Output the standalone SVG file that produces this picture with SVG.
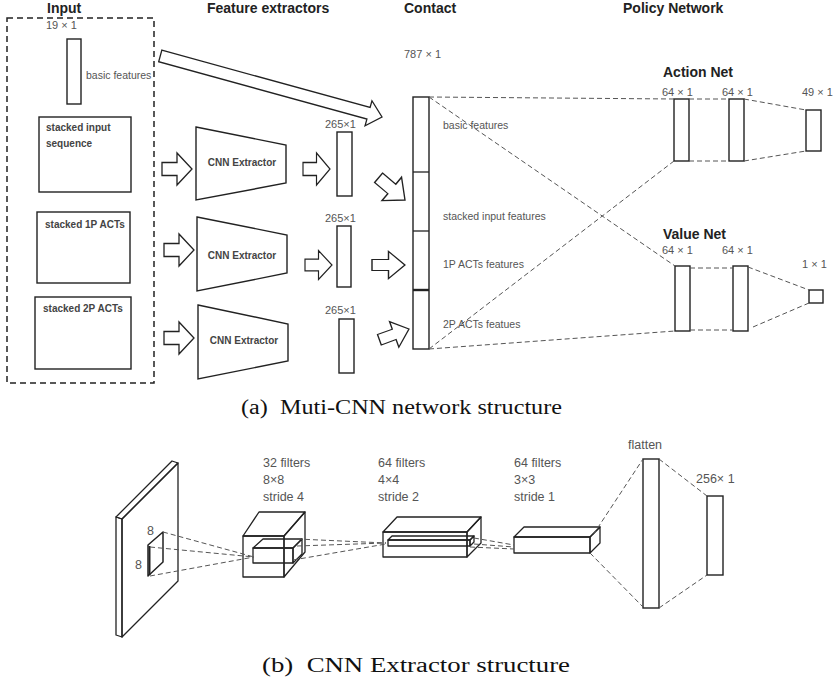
<svg xmlns="http://www.w3.org/2000/svg" width="836" height="685" viewBox="0 0 836 685">
  <style>
    text { font-family: "Liberation Sans", Arial, sans-serif; }
    .title { font-size: 14px; font-weight: bold; fill: #222; }
    .lbl { font-size: 11px; fill: #555; }
    .lbl12 { font-size: 12.5px; fill: #555; }
    .inbox { font-size: 10px; font-weight: bold; fill: #444; }
    .cnn { font-size: 10px; font-weight: bold; fill: #444; text-anchor: middle; }
    .box { fill: #fff; stroke: #222; stroke-width: 1.4; }
    .line { fill: none; stroke: #222; stroke-width: 1.3; stroke-linejoin: round; }
    .dash { fill: none; stroke: #555; stroke-width: 1; stroke-dasharray: 5 3; }
    .frame { fill: none; stroke: #222; stroke-width: 1.5; stroke-dasharray: 6 4; }
    .arrow { fill: #fff; stroke: #222; stroke-width: 1.3; stroke-linejoin: miter; }
    .cap { font-family: "Liberation Serif", "Times New Roman", serif; font-size: 20px; fill: #111; white-space: pre; }
  </style>
  <defs>
    <!-- hollow block arrow, tip at origin, pointing right -->
    <path id="blk" d="M-30,-6.5 H-15 V-16 L0,0 L-15,16 V6.5 H-30 Z"/>
  </defs>
  <rect width="836" height="685" fill="#fff"/>

  <!-- column titles -->
  <g id="titles">
    <text class="title" x="47" y="13">Input</text>
    <text class="title" x="207" y="13">Feature extractors</text>
    <text class="title" x="404" y="13">Contact</text>
    <text class="title" x="623" y="13">Policy Network</text>
  </g>

  <!-- input group -->
  <g id="input">
    <rect class="frame" x="7" y="18" width="147" height="365"/>
    <text class="lbl" x="46" y="29">19 × 1</text>
    <rect class="box" x="67" y="39" width="14" height="65"/>
    <text class="lbl" x="86" y="79" style="font-size:10.5px">basic features</text>
  </g>
  <g id="in-seq">
    <rect class="box" x="39" y="117" width="92" height="75"/>
    <text class="inbox" x="46" y="131">stacked input</text>
    <text class="inbox" x="46" y="147">sequence</text>
  </g>
  <g id="in-1p">
    <rect class="box" x="37" y="212" width="93" height="71"/>
    <text class="inbox" x="45" y="228">stacked 1P ACTs</text>
  </g>
  <g id="in-2p">
    <rect class="box" x="35" y="297" width="96" height="72"/>
    <text class="inbox" x="43" y="312">stacked 2P ACTs</text>
  </g>

  <!-- CNN extractors -->
  <g id="cnn1">
    <polygon class="box" points="196,127 286,145 286,183 196,200"/>
    <text class="cnn" x="242" y="166">CNN Extractor</text>
  </g>
  <g id="cnn2">
    <polygon class="box" points="197,217 287,235 287,273 197,291"/>
    <text class="cnn" x="242" y="259">CNN Extractor</text>
  </g>
  <g id="cnn3">
    <polygon class="box" points="198,305 288,324 288,361 198,379"/>
    <text class="cnn" x="244" y="344">CNN Extractor</text>
  </g>

  <!-- extractor outputs -->
  <g id="feat1">
    <text class="lbl" x="325" y="128">265×1</text>
    <rect class="box" x="337" y="132" width="15" height="64"/>
  </g>
  <g id="feat2">
    <text class="lbl" x="325" y="222">265×1</text>
    <rect class="box" x="337" y="226" width="14" height="61"/>
  </g>
  <g id="feat3">
    <text class="lbl" x="325" y="314">265×1</text>
    <rect class="box" x="339" y="319" width="15" height="54"/>
  </g>

  <!-- concatenated vector -->
  <g id="contact">
    <text class="lbl" x="404" y="58">787 × 1</text>
    <rect class="box" x="413" y="97" width="16" height="252"/>
    <line class="line" x1="413" y1="172" x2="429" y2="172"/>
    <line class="line" x1="413" y1="231" x2="429" y2="231"/>
    <line class="line" x1="413" y1="290" x2="429" y2="290" style="stroke-width:2.4"/>
    <text class="lbl" x="443" y="129" style="font-size:10.5px">basic features</text>
    <text class="lbl" x="443" y="220" style="font-size:10.5px">stacked input features</text>
    <text class="lbl" x="443" y="268" style="font-size:10.5px">1P ACTs features</text>
    <text class="lbl" x="443" y="328" style="font-size:10.5px">2P ACTs featues</text>
  </g>

  <!-- policy heads -->
  <g id="action-net">
    <text class="title" x="663" y="77">Action Net</text>
    <text class="lbl" x="662" y="96">64 × 1</text>
    <text class="lbl" x="722" y="96">64 × 1</text>
    <text class="lbl" x="802" y="96">49 × 1</text>
    <rect class="box" x="674" y="99" width="15" height="62"/>
    <rect class="box" x="729" y="99" width="15" height="62"/>
    <rect class="box" x="806" y="110" width="15" height="41"/>
  </g>
  <g id="value-net">
    <text class="title" x="663" y="239">Value Net</text>
    <text class="lbl" x="662" y="254">64 × 1</text>
    <text class="lbl" x="722" y="254">64 × 1</text>
    <text class="lbl" x="802" y="268">1 × 1</text>
    <rect class="box" x="675" y="266" width="15" height="65"/>
    <rect class="box" x="733" y="266" width="15" height="65"/>
    <rect class="box" x="809" y="290" width="14" height="13"/>
  </g>

  <!-- connectors: block arrows and dashed projections -->
  <g id="connectors">
    <path class="arrow" d="M-230,-6 H-14 V-13 L0,0 L-14,13 V6 H-230 Z" transform="translate(382,117) rotate(15.4)"/>
    <use href="#blk" class="arrow" transform="translate(192,169)"/>
    <use href="#blk" class="arrow" transform="translate(194,250)"/>
    <use href="#blk" class="arrow" transform="translate(194,338)"/>
    <use href="#blk" class="arrow" transform="translate(330,169) scale(0.9,1)"/>
    <use href="#blk" class="arrow" transform="translate(332,265) scale(0.9,0.9)"/>
    <use href="#blk" class="arrow" transform="translate(405,200) rotate(40) scale(1.15,0.95)"/>
    <use href="#blk" class="arrow" transform="translate(405,265) scale(1.1,0.85)"/>
    <use href="#blk" class="arrow" transform="translate(409,329) rotate(-20) scale(1.05,0.85)"/>

    <line class="dash" x1="429" y1="97" x2="674" y2="99"/>
    <line class="dash" x1="429" y1="97" x2="675" y2="266"/>
    <line class="dash" x1="429" y1="349" x2="674" y2="161"/>
    <line class="dash" x1="429" y1="349" x2="675" y2="331"/>
    <line class="dash" x1="689" y1="99" x2="729" y2="99"/>
    <line class="dash" x1="689" y1="161" x2="729" y2="161"/>
    <line class="dash" x1="744" y1="99" x2="806" y2="110"/>
    <line class="dash" x1="744" y1="161" x2="806" y2="151"/>
    <line class="dash" x1="690" y1="268" x2="733" y2="268"/>
    <line class="dash" x1="690" y1="330" x2="733" y2="330"/>
    <line class="dash" x1="748" y1="267" x2="809" y2="290"/>
    <line class="dash" x1="753" y1="327" x2="809" y2="303"/>
  </g>

  <text class="cap" x="241" y="414" textLength="321" lengthAdjust="spacingAndGlyphs" xml:space="preserve">(a)  Muti-CNN network structure</text>

  <!-- CNN extractor detail -->
  <g id="input-plane">
    <polygon class="line" points="116,517 172,461 178,463 122,519" fill="#fff"/>
    <polygon class="line" points="116,517 122,519 122,637 116,635" fill="#fff"/>
    <polygon class="line" points="122,519 178,463 178,581 122,637" fill="#fff"/>
    <polygon class="line" points="148,545 163,532 163,562 148,576" style="stroke-width:1.5"/>
    <line class="line" x1="149.5" y1="546" x2="149.5" y2="575" style="stroke-width:2"/>
    <text class="lbl12" x="147" y="535">8</text>
    <text class="lbl12" x="135" y="569">8</text>
  </g>
  <g id="conv1">
    <text class="lbl12" x="263" y="467">32 filters</text>
    <text class="lbl12" x="263" y="484">8×8</text>
    <text class="lbl12" x="263" y="501">stride 4</text>
    <polygon class="line" points="243,536 259,512 305,512 284,536"/>
    <polygon class="line" points="284,536 305,512 305,552 284,577"/>
    <rect class="line" x="243" y="536" width="41" height="41"/>
    <polygon class="line" points="253,548 263,539 302,539 293,548"/>
    <polygon class="line" points="293,548 302,539 302,554 293,563"/>
    <rect class="line" x="253" y="548" width="40" height="15"/>
  </g>
  <g id="conv2">
    <text class="lbl12" x="378" y="467">64 filters</text>
    <text class="lbl12" x="378" y="484">4×4</text>
    <text class="lbl12" x="378" y="501">stride 2</text>
    <polygon class="line" points="383,532 397,517 481,517 467,532"/>
    <polygon class="line" points="467,532 481,517 481,543 467,557"/>
    <rect class="line" x="383" y="532" width="84" height="25"/>
    <polygon class="line" points="388,540 392,536 474,536 470,540"/>
    <polygon class="line" points="470,540 474,536 474,542 470,546"/>
    <rect class="line" x="388" y="540" width="82" height="6"/>
  </g>
  <g id="conv3">
    <text class="lbl12" x="514" y="467">64 filters</text>
    <text class="lbl12" x="514" y="484">3×3</text>
    <text class="lbl12" x="514" y="501">stride 1</text>
    <polygon class="line" points="514,537 524,527 600,527 590,537"/>
    <polygon class="line" points="590,537 600,527 600,543 590,553"/>
    <rect class="line" x="514" y="537" width="76" height="16"/>
  </g>
  <g id="flatten">
    <text class="lbl12" x="628" y="449">flatten</text>
    <rect class="box" x="643" y="459" width="16" height="149"/>
  </g>
  <g id="dense256">
    <text class="lbl12" x="696" y="483">256× 1</text>
    <rect class="box" x="707" y="496" width="16" height="79"/>
  </g>
  <g id="extractor-connectors">
    <line class="dash" x1="163" y1="532" x2="254" y2="557"/>
    <line class="dash" x1="150" y1="547" x2="254" y2="557"/>
    <line class="dash" x1="150" y1="576" x2="254" y2="557"/>
    <line class="dash" x1="297" y1="539" x2="386" y2="543"/>
    <line class="dash" x1="297" y1="546" x2="386" y2="543"/>
    <line class="dash" x1="293" y1="560" x2="386" y2="544"/>
    <line class="dash" x1="474" y1="538" x2="514" y2="545"/>
    <line class="dash" x1="474" y1="544" x2="514" y2="547"/>
    <line class="dash" x1="470" y1="547" x2="514" y2="549"/>
    <line class="dash" x1="593" y1="535" x2="643" y2="459"/>
    <line class="dash" x1="590" y1="553" x2="643" y2="607"/>
    <line class="dash" x1="659" y1="459" x2="707" y2="496"/>
    <line class="dash" x1="659" y1="608" x2="707" y2="575"/>
  </g>

  <text class="cap" x="262" y="672" textLength="308" lengthAdjust="spacingAndGlyphs" xml:space="preserve">(b)  CNN Extractor structure</text>
</svg>
